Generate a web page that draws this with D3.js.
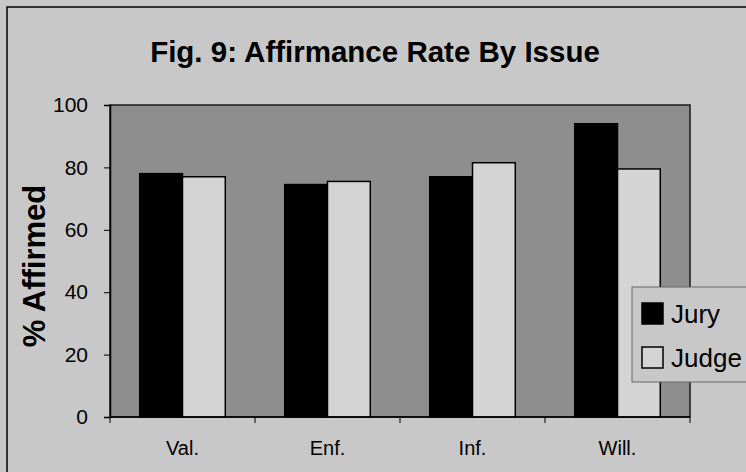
<!DOCTYPE html>
<html>
<head>
<meta charset="utf-8">
<script src="https://cdn.jsdelivr.net/npm/d3@7"></script>
<style>
  body { margin: 0; background: #c8c8c8; }
  svg { display: block; font-family: "Liberation Sans", Arial, sans-serif; }
</style>
</head>
<body>
<div id="chart"></div>
<script>
var categories = ['Val.', 'Enf.', 'Inf.', 'Will.'];
var series = ['Jury', 'Judge'];
var juryValues = [78, 74.5, 77, 94];
var judgeValues = [77, 75.5, 81.5, 79.5];
var yTicks = [0, 20, 40, 60, 80, 100];

var width = 746, height = 472;
var margin = {left: 110, right: 56, top: 105, bottom: 55};

var svg = d3.select('#chart').append('svg')
  .attr('width', width)
  .attr('height', height);

// outer chart area, frame runs off the right/bottom edge
svg.append('rect')
  .attr('x', 7).attr('y', 7)
  .attr('width', width + 20).attr('height', height + 20)
  .attr('fill', '#c8c8c8')
  .attr('stroke', '#000')
  .attr('stroke-width', 1.5);

var x0 = d3.scaleBand()
  .domain(categories)
  .range([margin.left, width - margin.right])
  .paddingInner(0.41)
  .paddingOuter(0.205);

var x1 = d3.scaleBand()
  .domain(series)
  .range([0, x0.bandwidth()]);

var y = d3.scaleLinear()
  .domain([0, 100])
  .range([height - margin.bottom, margin.top]);

var color = d3.scaleOrdinal().domain(series).range(['#000000', '#d4d4d4']);

// plot area
svg.append('rect')
  .attr('x', margin.left)
  .attr('y', y(100))
  .attr('width', width - margin.right - margin.left)
  .attr('height', y(0) - y(100))
  .attr('fill', '#8e8e8e')
  .attr('stroke', '#1a1a1a')
  .attr('stroke-width', 1.5);

var rows = categories.map(function(c, i) {
  return {cat: c, vals: [{s: 'Jury', v: juryValues[i]}, {s: 'Judge', v: judgeValues[i]}]};
});

var groups = svg.selectAll('.grp')
  .data(rows)
  .enter().append('g')
  .attr('class', 'grp')
  .attr('transform', function(d) { return 'translate(' + x0(d.cat) + ',0)'; });

groups.selectAll('rect')
  .data(function(d) { return d.vals; })
  .enter().append('rect')
  .attr('x', function(d) { return x1(d.s); })
  .attr('y', function(d) { return y(d.v); })
  .attr('width', x1.bandwidth())
  .attr('height', function(d) { return y(0) - y(d.v); })
  .attr('fill', function(d) { return color(d.s); })
  .attr('stroke', '#000')
  .attr('stroke-width', 1.5);

// y axis
var yAxis = svg.append('g')
  .attr('transform', 'translate(' + margin.left + ',0)')
  .call(d3.axisLeft(y).tickValues(yTicks).tickSize(6).tickPadding(16));
yAxis.select('.domain').attr('stroke', '#000').attr('stroke-width', 1.5);
yAxis.selectAll('text').attr('font-size', 21).attr('fill', '#000')
  .attr('font-family', '"Liberation Sans", Arial, sans-serif');

// x axis, ticks sit between categories
var xAxis = svg.append('g')
  .attr('transform', 'translate(0,' + y(0) + ')');
xAxis.append('line')
  .attr('x1', margin.left).attr('x2', width - margin.right)
  .attr('stroke', '#000').attr('stroke-width', 1.5);
xAxis.selectAll('.xtick')
  .data(d3.range(categories.length + 1))
  .enter().append('line')
  .attr('x1', function(i) { return margin.left + i * x0.step(); })
  .attr('x2', function(i) { return margin.left + i * x0.step(); })
  .attr('y1', 0).attr('y2', 6)
  .attr('stroke', '#000');
xAxis.selectAll('.xlab')
  .data(categories)
  .enter().append('text')
  .attr('x', function(d) { return x0(d) + x0.bandwidth() / 2; })
  .attr('y', 38)
  .attr('text-anchor', 'middle')
  .attr('font-size', 20)
  .text(function(d) { return d; });

// titles
svg.append('text')
  .attr('x', 375).attr('y', 62)
  .attr('text-anchor', 'middle')
  .attr('font-size', 29.5)
  .attr('font-weight', 'bold')
  .text('Fig. 9:  Affirmance Rate By Issue');

svg.append('text')
  .attr('transform', 'translate(45,266) rotate(-90)')
  .attr('text-anchor', 'middle')
  .attr('font-size', 31)
  .attr('font-weight', 'bold')
  .text('% Affirmed');

// legend
var legend = svg.append('g').attr('transform', 'translate(632,287)');
legend.append('rect')
  .attr('width', 140).attr('height', 95)
  .attr('fill', '#c8c8c8')
  .attr('stroke', '#666');
var item = legend.selectAll('.item')
  .data(series)
  .enter().append('g')
  .attr('transform', function(d, i) { return 'translate(10,' + (16 + i * 44) + ')'; });
item.append('rect')
  .attr('width', 21).attr('height', 21)
  .attr('fill', function(d) { return color(d); })
  .attr('stroke', '#000').attr('stroke-width', 1.5);
item.append('text')
  .attr('x', 29).attr('y', 20)
  .attr('font-size', 26)
  .text(function(d) { return d; });
</script>
</body>
</html>
